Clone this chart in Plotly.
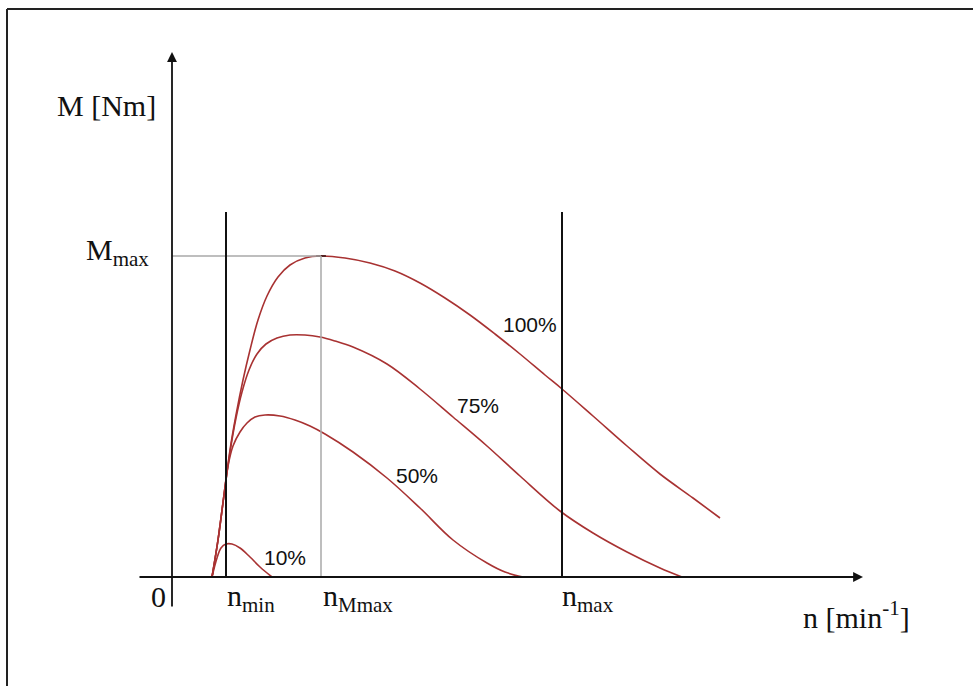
import plotly.graph_objects as go

# ---- data (n in min^-1, M in Nm) ----
n_100 = [400, 460, 520, 580, 640, 710, 780, 860, 950, 1060, 1180, 1330, 1490, 1730, 1980, 2230, 2480, 2730, 2980, 3230, 3480, 3730, 3900, 4210, 4550, 4880, 5210, 5480]
M_100 = [0, 37, 82, 127, 162, 197, 227, 257, 281, 300, 312, 319, 321, 319, 314, 306, 294, 279, 262, 243, 223, 202, 188, 161, 131, 103, 79, 59]

n_75 = [400, 460, 520, 580, 640, 700, 770, 850, 940, 1050, 1180, 1330, 1480, 1630, 1810, 2150, 2480, 2810, 3150, 3480, 3880, 4210, 4550, 4880, 5100]
M_75 = [0, 37, 82, 125, 159, 185, 207, 223, 233, 239, 242, 242, 240, 236, 230, 213, 188, 160, 131, 101, 66, 44, 25, 9, 0]

n_50 = [400, 460, 520, 560, 610, 680, 750, 830, 930, 1080, 1230, 1380, 1530, 1810, 2150, 2480, 2810, 3150, 3330, 3510]
M_50 = [0, 37, 82, 111, 131, 145, 154, 160, 162, 161, 157, 151, 143, 125, 99, 69, 37, 14, 5, 0]

n_10 = [400, 450, 490, 540, 600, 680, 780, 880, 1000]
M_10 = [0, 19, 29, 33, 33, 29, 20, 10, 0]

curve_labels = ["100%", "75%", "50%", "10%"]
label_n = [3580, 3060, 2450, 1130]
label_M = [253, 172, 102, 20]

n_min = 540
n_Mmax = 1490
n_max = 3900
M_max = 321
limit_top = 365

x_axis_from, x_axis_to = -340, 6910
y_axis_from, y_axis_to = -31, 525

RED = "#a83232"
SERIF = "Liberation Serif, Times New Roman, serif"
SANS = "Liberation Sans, Arial, sans-serif"

fig = go.Figure()

for xs, ys in [(n_100, M_100), (n_75, M_75), (n_50, M_50), (n_10, M_10)]:
    fig.add_trace(go.Scatter(x=xs, y=ys, mode="lines",
                             line=dict(color=RED, width=1.6, shape="spline", smoothing=1.0),
                             hoverinfo="skip", showlegend=False))

# peak marker
fig.add_trace(go.Scatter(x=[n_Mmax], y=[M_max], mode="markers",
                         marker=dict(symbol="line-ew", size=7, line=dict(color="#552222", width=2)),
                         hoverinfo="skip", showlegend=False))

# gray guide lines
fig.add_shape(type="line", x0=0, x1=n_Mmax, y0=M_max, y1=M_max, line=dict(color="#a8a8a8", width=1.5))
fig.add_shape(type="line", x0=n_Mmax, x1=n_Mmax, y0=0, y1=M_max, line=dict(color="#a8a8a8", width=1.5))

# n_min / n_max limits
for nv in (n_min, n_max):
    fig.add_shape(type="line", x0=nv, x1=nv, y0=0, y1=limit_top, line=dict(color="#111111", width=2))

# axes with arrows
fig.add_annotation(x=x_axis_to, y=0, ax=x_axis_from, ay=0, axref="x", ayref="y",
                   xref="x", yref="y", text="", showarrow=True, arrowhead=2,
                   arrowsize=1.1, arrowwidth=1.8, arrowcolor="#111111")
fig.add_annotation(x=0, y=y_axis_to, ax=0, ay=y_axis_from, axref="x", ayref="y",
                   xref="x", yref="y", text="", showarrow=True, arrowhead=2,
                   arrowsize=1.1, arrowwidth=1.8, arrowcolor="#111111")

# frame (top and left)
fig.add_shape(type="line", xref="paper", yref="paper", x0=7/973, x1=1, y0=1-9/686, y1=1-9/686,
              line=dict(color="#222222", width=2))
fig.add_shape(type="line", xref="paper", yref="paper", x0=7/973, x1=7/973, y0=0, y1=1-9/686,
              line=dict(color="#222222", width=2))

def txt(x, y, s, size=30, font=SERIF, xanchor="center"):
    fig.add_annotation(x=x, y=y, xref="x", yref="y", text=s, showarrow=False,
                       xanchor=xanchor, yanchor="middle",
                       font=dict(family=font, size=size, color="#111111"))

txt(-660, 472, "M [Nm]")
txt(-210, 325, "M<sub>max</sub>", xanchor="right")
txt(-140, -19, "0")
txt(790, -21, "n<sub>min</sub>")
txt(1860, -21, "n<sub>Mmax</sub>")
txt(4160, -21, "n<sub>max</sub>")
txt(6840, -38, "n [min<sup>-1</sup>]")

for s, xv, yv in zip(curve_labels, label_n, label_M):
    txt(xv, yv, s, size=21, font=SANS)

fig.update_layout(
    width=973, height=686,
    margin=dict(l=0, r=0, t=0, b=0),
    paper_bgcolor="white", plot_bgcolor="white",
    xaxis=dict(range=[-1720, 8010], visible=False, fixedrange=True),
    yaxis=dict(range=[-109, 577], visible=False, fixedrange=True),
    showlegend=False,
)

fig.write_html("out.html", config={"displayModeBar": False},
               post_script="document.body.style.margin='0';document.body.style.overflow='hidden';")
